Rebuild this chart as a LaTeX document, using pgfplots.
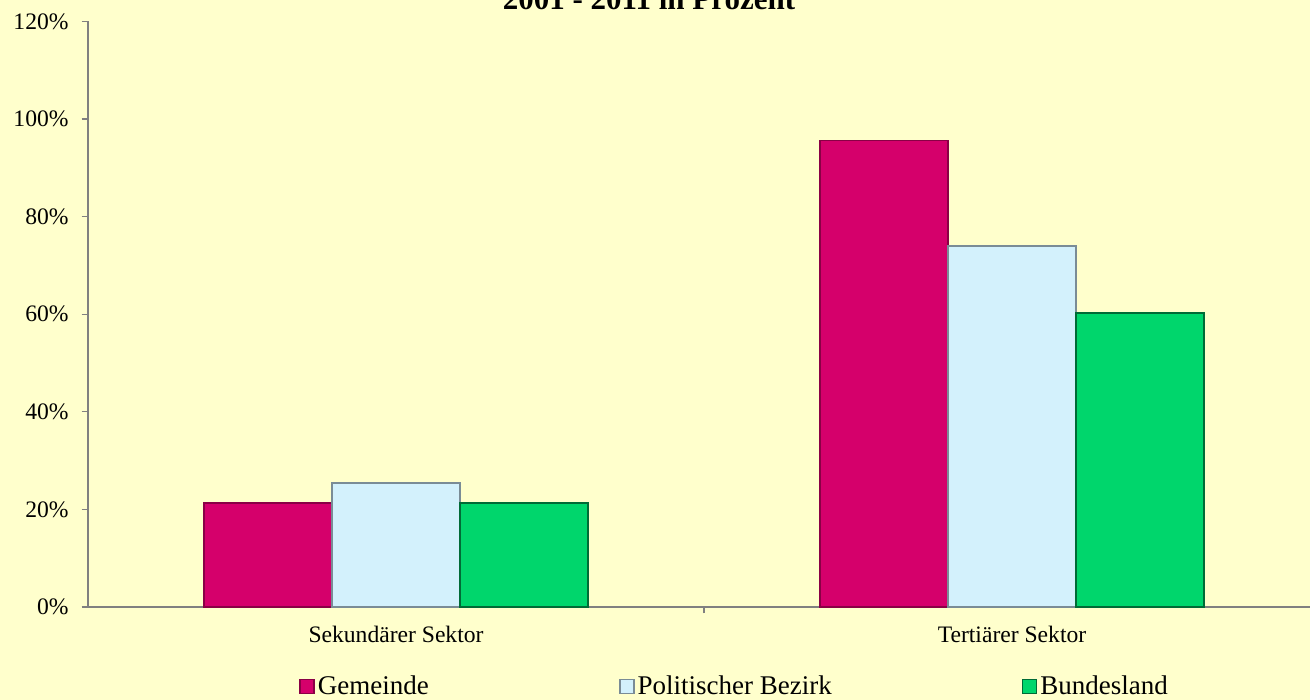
\documentclass[border=0pt]{standalone}
\usepackage{pgfplots}
\pgfplotsset{compat=1.18}
\usepackage{fontspec}
\setmainfont{Liberation Serif}
\definecolor{bg}{HTML}{FFFFCC}
\definecolor{cA}{HTML}{D5006B}
\definecolor{cAd}{HTML}{8A0045}
\definecolor{cB}{HTML}{D3F1FC}
\definecolor{cBd}{HTML}{7A8C96}
\definecolor{cC}{HTML}{00D66C}
\definecolor{cCd}{HTML}{006B36}
\definecolor{axgray}{HTML}{808080}
\begin{document}
\begin{tikzpicture}
\fill[bg] (-44pt,-46.5pt) rectangle (611pt,303.5pt);
\useasboundingbox (-44pt,-46.5pt) rectangle (611pt,303.5pt);
\begin{axis}[
  at={(0pt,0pt)}, anchor=south west,
  scale only axis, width=616pt, height=292.8pt,
  xmin=-0.5, xmax=1.5, ymin=0, ymax=120,
  axis x line*=bottom, axis y line*=left,
  axis line style={draw=axgray, line width=0.6pt},
  tick style={draw=axgray, line width=0.6pt},
  tick align=outside, major tick length=3.2pt,
  xtick={0.5}, xticklabels={},
  ytick={0,20,40,60,80,100,120},
  yticklabel={\pgfmathprintnumber{\tick}\%},
  /pgf/number format/assume math mode=true,
  yticklabel style={font=\fontsize{11.8}{14}\selectfont, xshift=-3pt},
  ybar=0pt, bar width=64pt,
  clip=false,
  legend columns=3,
  legend cell align=left,
  legend style={at={(axis cs:-0.1575,-16.3)}, anchor=west, draw=none, fill=none,
    font=\fontsize{13.5}{16}\selectfont, inner sep=0pt,
    nodes={inner sep=1.5pt},
    /tikz/every even column/.append style={column sep=93.5pt}},
  legend image code/.code={\fill[#1] (0pt,-3.5pt) rectangle (7pt,3.5pt);},
]
\addplot[fill=cA, draw=cAd, line width=0.8pt] coordinates {(0,21.3) (1,95.6)};
\addplot[fill=cB, draw=cBd, line width=0.8pt] coordinates {(0,25.4) (1,74.0)};
\addplot[fill=cC, draw=cCd, line width=0.8pt] coordinates {(0,21.3) (1,60.2)};
\legend{Gemeinde, Politischer Bezirk, Bundesland}
\node[anchor=base, font=\fontsize{11.8}{14}\selectfont] at (axis cs:0,0) [yshift=-18pt] {Sekundärer Sektor};
\node[anchor=base, font=\fontsize{11.8}{14}\selectfont] at (axis cs:1,0) [yshift=-18pt] {Tertiärer Sektor};
\end{axis}
\node[anchor=base, font=\fontsize{15.5}{18}\selectfont\bfseries] at (280.5pt,298.5pt) {2001 - 2011 in Prozent};
\end{tikzpicture}
\end{document}
